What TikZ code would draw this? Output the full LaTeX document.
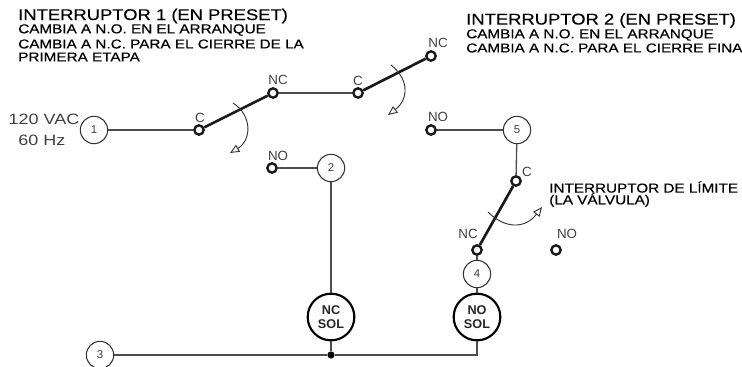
\documentclass[tikz,border=0pt]{standalone}
\usepackage{fontspec}
\setmainfont{Liberation Sans}
\newfontfamily\widefont[FakeStretch=1.2]{Liberation Sans}
\newfontfamily\heavyfont[FakeStretch=1.18,FakeBold=0.35]{Liberation Sans}
\usetikzlibrary{
  positioning,
  arrows.meta
  }
\tikzset{
  >={Triangle[open,length=7pt,width=6pt]},
  wire/.style={line width=1pt,draw=black!70},
  lever/.style={line width=2pt,draw=black!90},
  swing/.style={line width=0.7pt,draw=black!80,->},
  terminal/.style={circle,draw=black!90,line width=1.8pt,fill=white,inner sep=0pt,minimum size=7pt},
  numc/.style={circle,draw=black!80,line width=0.8pt,fill=white,inner sep=0pt,minimum size=20.5pt,font=\fontsize{8.5}{10}\selectfont,text=black!75},
  solc/.style={circle,draw=black,line width=1.6pt,fill=white,inner sep=0pt,minimum size=35pt,align=center,text=black!85,font=\fontsize{9.5}{11}\selectfont\bfseries},
  junc/.style={circle,fill=black,inner sep=0pt,minimum size=5.5pt},
  lab/.style={inner sep=0pt,text=black!75,font=\fontsize{10}{12}\selectfont},
  supply/.style={inner sep=0pt,text=black!75,font=\widefont\fontsize{11.25}{14}\selectfont},
  head/.style={anchor=west,inner sep=0pt,font=\heavyfont\fontsize{11.7}{13}\selectfont},
  subhead/.style={anchor=west,inner sep=0pt,font=\heavyfont\fontsize{9.7}{11}\selectfont},
}

\begin{document}
\begin{tikzpicture}[x=0.75pt,y=-0.75pt]
  \useasboundingbox (0,0) rectangle (742,367);
% =========================================================
% (A) Texts at the top
% =========================================================
  \node[head] (titleA) at (18,16) {INTERRUPTOR 1 (EN PRESET)};
  \node[subhead] (lineA1) at (18,30) {CAMBIA A N.O. EN EL ARRANQUE};
  \node[subhead] (lineA2) at (18,44) {CAMBIA A N.C. PARA EL CIERRE DE LA};
  \node[subhead] (lineA3) at (18,57) {PRIMERA ETAPA};
  \node[head] (titleB) at (466,20.5) {INTERRUPTOR 2 (EN PRESET)};
  \node[subhead] (lineB1) at (466,35) {CAMBIA A N.O. EN EL ARRANQUE};
  \node[subhead] (lineB2) at (466,48) {CAMBIA A N.C. PARA EL CIERRE FINA};
  \node[subhead] (lineC1) at (549,187) {INTERRUPTOR DE LÍMITE};
  \node[subhead] (lineC2) at (549,200) {(LA VÁLVULA)};
  \node[supply] (volts) at (44,119) {120 VAC};
  \node[supply] (hertz) at (42,140) {60 Hz};
% =========================================================
% (B) Nodes
% =========================================================
  \node[numc] (num1) at (94,130) {1};
  \node[numc] (num2) at (331,168) {2};
  \node[numc] (num3) at (100,355) {3};
  \node[numc] (num4) at (477,274) {4};
  \node[numc] (num5) at (517,130) {5};
  \node[solc] (solNC) at (331,317) {NC\\SOL};
  \node[solc] (solNO) at (477,317) {NO\\SOL};
  \node[junc] (join) at (331,355) {};
  \node[terminal] (c1) at (199,130) {};
  \node[terminal] (nc1) at (273,93) {};
  \node[terminal] (no1) at (272,168) {};
  \node[terminal] (c2) at (358,93) {};
  \node[terminal] (nc2) at (431,56) {};
  \node[terminal] (no2) at (431,130) {};
  \node[terminal] (c3) at (516,181) {};
  \node[terminal] (nc3) at (477,250) {};
  \node[terminal] (no3) at (556,250) {};
  \node[lab] (labC1) at (200,118) {C};
  \node[lab] (labNC1) at (278,80) {NC};
  \node[lab] (labNO1) at (278,156) {NO};
  \node[lab] (labC2) at (358,81) {C};
  \node[lab] (labNC2) at (438,43) {NC};
  \node[lab] (labNO2) at (438,117) {NO};
  \node[lab] (labC3) at (527,172) {C};
  \node[lab] (labNC3) at (468,234) {NC};
  \node[lab] (labNO3) at (567,234) {NO};
% =========================================================
% (C) Wires and levers
% =========================================================
  \draw[wire] (num1) -- (c1);
  \draw[wire] (nc1) -- (c2);
  \draw[wire] (no1) -- (num2);
  \draw[wire] (num2) -- (solNC);
  \draw[wire] (no2) -- (num5);
  \draw[wire] (num5) -- (c3);
  \draw[wire] (nc3) -- (num4);
  \draw[wire] (num4) -- (solNO);
  \draw[wire] (solNC) -- (join);
  \draw[wire] (num3) -- (join);
  \draw[wire] (join) -| (solNO);
  \draw[lever] (c1) -- (nc1);
  \draw[lever] (c2) -- (nc2);
  \draw[lever] (c3) -- (nc3);
% =========================================================
% (D) Swing arrows
% =========================================================
  \draw[swing] (233,103) .. controls (252,115) and (252,140) .. (230,153);
  \draw[swing] (391,65) .. controls (410,80) and (408,100) .. (388,115);
  \draw[swing] (488,212) .. controls (505,229) and (525,229) .. (542,207);
\end{tikzpicture}
\end{document}
